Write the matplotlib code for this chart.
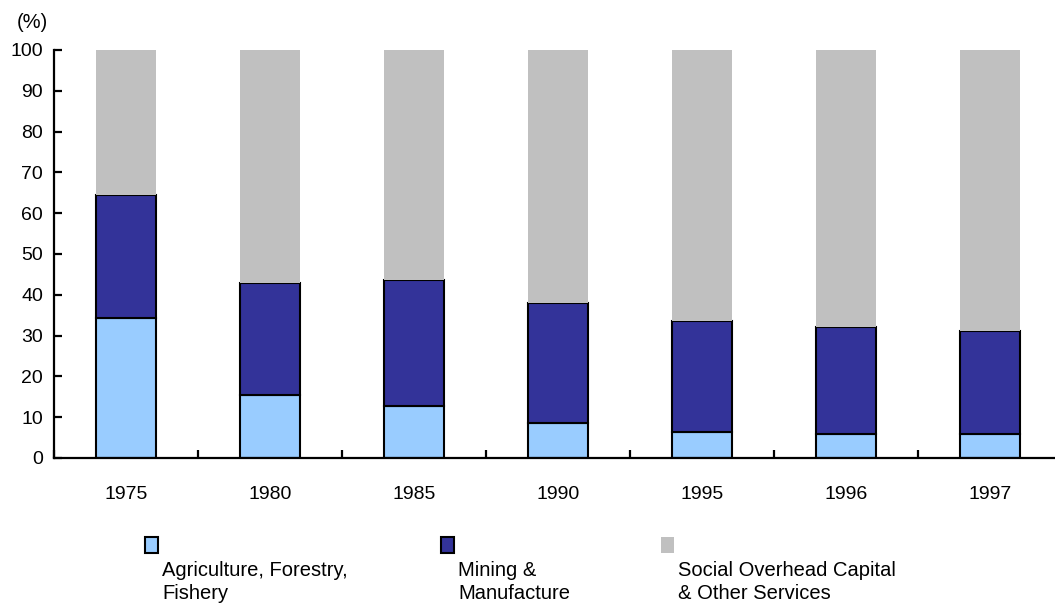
import matplotlib
matplotlib.use("Agg")
import matplotlib.pyplot as plt
import numpy as np
from matplotlib.patches import Rectangle

plt.rcParams["font.family"] = ["Liberation Sans", "DejaVu Sans"]

# ── Data ──────────────────────────────────────────────────────────────────────
years       = ["1975", "1980", "1985", "1990", "1995", "1996", "1997"]
agriculture = [34.3, 15.5, 12.8, 8.7, 6.3, 5.9, 5.9]
mining      = [30.2, 27.3, 30.9, 29.3, 27.3, 26.3, 25.3]
services    = [100 - a - m for a, m in zip(agriculture, mining)]
labels      = ["Agriculture, Forestry,\nFishery",
               "Mining &\nManufacture",
               "Social Overhead Capital\n& Other Services"]
colors      = ["#99CCFF", "#333399", "#C0C0C0"]

# ── Figure ────────────────────────────────────────────────────────────────────
W, H = 1055, 603
fig = plt.figure(figsize=(W / 100, H / 100), dpi=100)
ax = fig.add_axes([54 / W, 145 / H, 1008 / W, 408 / H])

x = np.arange(len(years))
bw = 0.41
ax.bar(x, agriculture, bw, color=colors[0], edgecolor="black", linewidth=1.5)
ax.bar(x, mining, bw, bottom=agriculture, color=colors[1],
       edgecolor="black", linewidth=1.5)
ax.bar(x, services, bw, bottom=np.add(agriculture, mining), color=colors[2],
       linewidth=0)

ax.set_xlim(-0.5, len(years) - 0.5)
ax.set_ylim(0, 100)
ax.set_yticks(range(0, 101, 10))

# category boundaries as major ticks, year labels as minor ticks
ax.set_xticks(np.arange(-0.5, len(years), 1.0))
ax.set_xticklabels([])
ax.set_xticks(x, minor=True)
ax.set_xticklabels(years, minor=True)

for s in ["top", "right"]:
    ax.spines[s].set_visible(False)
for s in ["left", "bottom"]:
    ax.spines[s].set_linewidth(1.6)

ax.tick_params(axis="y", direction="in", length=6, width=1.6,
               labelsize=14, pad=8)
ax.tick_params(axis="x", which="major", direction="in", length=6, width=1.6)
ax.tick_params(axis="x", which="minor", length=0, labelsize=14, pad=20)

fig.text(17 / W, 1 - 22 / H, "(%)", fontsize=14.5, va="center", ha="left")

# ── Legend (square above text) ───────────────────────────────────────────────
leg_x = [145, 441, 661]
for lx, lab, c in zip(leg_x, labels, colors):
    ec = "black" if c != "#C0C0C0" else "none"
    fig.patches.append(Rectangle((lx / W, 1 - 553 / H), 13 / W, 16 / H,
                                 transform=fig.transFigure, facecolor=c,
                                 edgecolor=ec, linewidth=1.5))
    fig.text((lx + 17) / W, 1 - 561 / H, lab, fontsize=14.5, va="top",
             ha="left", linespacing=1.28)

fig.savefig("out.png", dpi=100)
